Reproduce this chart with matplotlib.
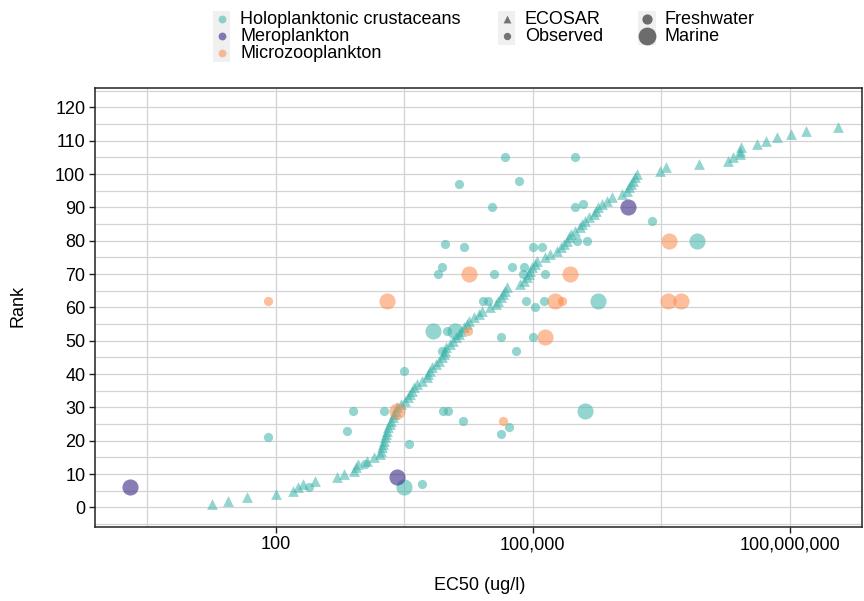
import numpy as np
import matplotlib
matplotlib.use("Agg")
import matplotlib.pyplot as plt
from matplotlib.patches import Rectangle

plt.rcParams['font.family'] = ['Liberation Sans', 'DejaVu Sans']

# ---------------- data ----------------
# ECOSAR predictions (Holoplanktonic crustaceans, freshwater), rank 1..114
ecosar_rank = list(range(1, 115))
ecosar_ec50 = [18.0, 27.7, 46.1, 101, 159, 180, 208, 289, 518, 630,
               830, 869, 918, 1160, 1410, 1660, 1700, 1750, 1800, 1850,
               1900, 1950, 2000, 2070, 2140, 2230, 2320, 2410, 2510, 2640,
               2910, 3240, 3550, 3710, 3880, 4130, 4520, 5120, 5810, 6020,
               6270, 6650, 7460, 8090, 8770, 9120, 9380, 9760, 10900, 11900,
               12800, 13800, 14600, 15800, 17000, 18100, 20700, 23700, 25500, 31800,
               37400, 39800, 42800, 45500, 47600, 49900, 71300, 79400, 85300, 89600,
               93300, 98400, 106700, 112500, 139600, 159600, 191000, 214400, 232300, 250000,
               266000, 280500, 312600, 357300, 376700, 408300, 455000, 520000, 549500, 584800,
               639700, 732800, 843300, 1104000, 1253000, 1333000, 1406000, 1496000, 1567000, 1640000,
               3069000, 3605000, 8810000, 19230000, 21980000, 26300000, 26600000, 26800000, 41200000, 52500000,
               70500000, 103500000, 154900000, 369000000]

# Observed: Holoplanktonic crustaceans, freshwater
holo_fw_ec50 = [81, 248, 689, 796, 1107, 1860, 3180, 3610, 5080, 8690,
                9080, 10380, 9890, 15530, 13840, 9510, 15840, 8690, 7870, 26600,
                29920, 33330, 35480, 42460, 42760, 47640, 53460, 57040, 64000, 69980,
                77870, 79370, 83060, 100300, 101900, 106700, 127700, 135900, 139600, 312500,
                312500, 384400, 327200, 427800, 2455000]
holo_fw_rank = [21, 6, 23, 29, 13, 29, 41, 19, 7, 47,
                29, 29, 53, 26, 97, 79, 78, 72, 70, 62,
                62, 90, 70, 51, 22, 105, 24, 72, 47, 98,
                70, 72, 62, 51, 78, 60, 78, 62, 70, 105,
                90, 91, 80, 80, 86]
# Observed: Holoplanktonic crustaceans, marine
holo_m_ec50 = [3180, 6880, 12440, 408600, 571700, 8222000]
holo_m_rank = [6, 53, 53, 29, 62, 80]
# Observed: Meroplankton, marine
mero_m_ec50 = [2.0, 2596, 1309000]
mero_m_rank = [6, 9, 90]
# Observed: Microzooplankton, freshwater
micro_fw_ec50 = [81, 17780, 45500, 218600]
micro_fw_rank = [62, 53, 26, 62]
# Observed: Microzooplankton, marine
micro_m_ec50 = [1985, 2596, 17870, 139600, 182500, 273000, 3905000, 3769000, 5348000]
micro_m_rank = [62, 29, 70, 51, 62, 70, 80, 62, 62]

group_labels = ["Holoplanktonic crustaceans", "Meroplankton", "Microzooplankton"]
source_labels = ["ECOSAR", "Observed"]
habitat_labels = ["Freshwater", "Marine"]

x_ticks = [1e2, 1e5, 1e8]
x_ticklabels = ["100", "100,000", "100,000,000"]
y_ticks = list(range(0, 121, 10))

# ---------------- style ----------------
W, H = 864, 601
col = {"holo": "#3db4ab", "mero": "#3f2d86", "micro": "#fc8a4a"}
alp = {"holo": 0.55, "mero": 0.62, "micro": 0.55}
S_FW, S_M, S_TRI = 44, 135, 60
FS = 13

fig = plt.figure(figsize=(W / 100, H / 100), dpi=100)
ax = fig.add_axes([95 / W, 1 - 526.7 / H, (862 - 95) / W, (526.7 - 87.5) / H])
ax.set_xscale('log')
ax.set_xlim(10 ** -0.1086, 10 ** 8.844)
ax.set_ylim(-5.8, 126.0)

# grid
for v in [10 ** 0.5, 10 ** 3.5, 10 ** 6.5] + x_ticks:
    ax.axvline(v, color='#d3d3d3', lw=0.9, zorder=0)
for v in range(-5, 126, 5):
    ax.axhline(v, color='#d3d3d3', lw=0.9, zorder=0)

ax.scatter(ecosar_ec50, ecosar_rank, marker='^', s=S_TRI, color=col["holo"],
           alpha=alp["holo"], linewidths=0, zorder=3)
ax.scatter(holo_fw_ec50, holo_fw_rank, marker='o', s=S_FW, color=col["holo"],
           alpha=alp["holo"], linewidths=0, zorder=3)
ax.scatter(holo_m_ec50, holo_m_rank, marker='o', s=S_M, color=col["holo"],
           alpha=alp["holo"], linewidths=0, zorder=3)
ax.scatter(mero_m_ec50, mero_m_rank, marker='o', s=S_M, color=col["mero"],
           alpha=alp["mero"], linewidths=0, zorder=3)
ax.scatter(micro_fw_ec50, micro_fw_rank, marker='o', s=S_FW, color=col["micro"],
           alpha=alp["micro"], linewidths=0, zorder=3)
ax.scatter(micro_m_ec50, micro_m_rank, marker='o', s=S_M, color=col["micro"],
           alpha=alp["micro"], linewidths=0, zorder=3)

ax.set_xticks(x_ticks)
ax.set_xticklabels(x_ticklabels)
ax.xaxis.set_minor_locator(matplotlib.ticker.NullLocator())
ax.set_yticks(y_ticks)
ax.tick_params(axis='both', labelsize=FS, colors='#222222', length=4, width=1,
               labelcolor='black', pad=3)
for sp in ax.spines.values():
    sp.set_color('#222222')
    sp.set_linewidth(1.1)

fig.text(18 / W, 1 - 306 / H, "Rank", rotation=90, ha='center', va='center', fontsize=FS)
fig.text(480 / W, 1 - 585 / H, "EC50 (ug/l)", ha='center', va='center', fontsize=FS)

# ---------------- legend (manual, in pixel coordinates) ----------------
ov = fig.add_axes([0, 0, 1, 1], zorder=5)
ov.set_xlim(0, W)
ov.set_ylim(H, 0)
ov.axis('off')
ov.patch.set_alpha(0)

rows = [19.3, 36.3, 53.3]
kbg = '#f0f0f0'
# colour legend
ov.add_patch(Rectangle((213, 11), 17, 51, color=kbg, lw=0))
for r, key, lab in zip(rows, ["holo", "mero", "micro"], group_labels):
    ov.scatter([221.5], [r], s=32, color=col[key], alpha=alp[key], linewidths=0)
    ov.text(240, r, lab, ha='left', va='center', fontsize=FS)
# shape legend
ov.add_patch(Rectangle((498, 11), 17, 34, color=kbg, lw=0))
ov.scatter([506.5], [rows[0]], s=32, marker='^', color='#555555', alpha=0.8, linewidths=0)
ov.scatter([506.5], [rows[1]], s=28, marker='o', color='#555555', alpha=0.8, linewidths=0)
for r, lab in zip(rows[:2], source_labels):
    ov.text(525, r, lab, ha='left', va='center', fontsize=FS)
# size legend
ov.add_patch(Rectangle((637.5, 11), 18, 34, color=kbg, lw=0))
ov.scatter([646.5], [rows[0]], s=S_FW + 10, marker='o', color='#555555', alpha=0.85, linewidths=0)
ov.scatter([646.5], [rows[1]], s=S_M + 30, marker='o', color='#555555', alpha=0.85, linewidths=0)
for r, lab in zip(rows[:2], habitat_labels):
    ov.text(665, r, lab, ha='left', va='center', fontsize=FS)

fig.savefig("out.png", dpi=100)
